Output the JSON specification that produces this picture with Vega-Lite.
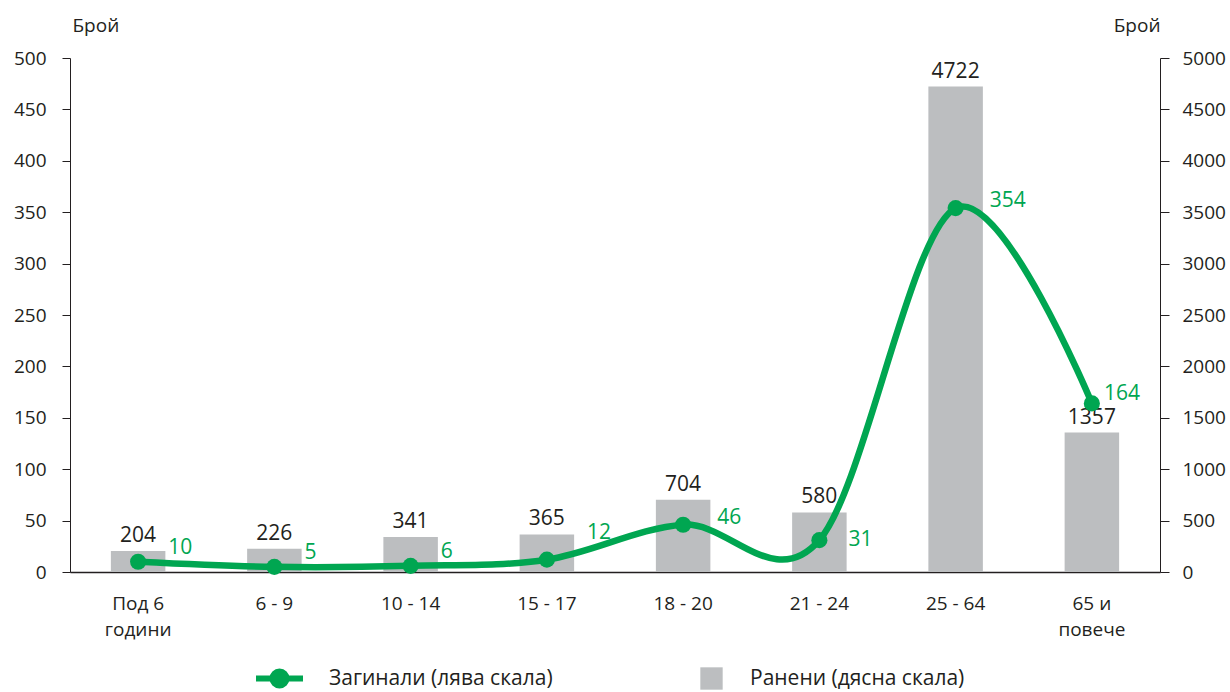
{
  "$schema": "https://vega.github.io/schema/vega-lite/v6.json",
  "width": 1090,
  "height": 514,
  "autosize": {"type": "none"},
  "padding": {"left": 70, "top": 58, "right": 70, "bottom": 120},
  "background": "white",
  "config": {
    "font": "Open Sans",
    "view": {"stroke": null},
    "axis": {
      "grid": false,
      "labelFont": "Open Sans",
      "labelFontSize": 19,
      "labelColor": "#231f20",
      "domainColor": "#231f20",
      "tickColor": "#231f20",
      "titleFont": "Open Sans",
      "titleFontSize": 19,
      "titleFontWeight": "normal",
      "titleColor": "#231f20"
    },
    "legend": {
      "labelFont": "Open Sans",
      "labelFontSize": 21,
      "labelColor": "#231f20",
      "labelLimit": 0,
      "padding": 0
    }
  },
  "data": {
    "values": [
      {"age": "Под 6|години", "killed": 10, "injured": 204},
      {"age": "6 - 9", "killed": 5, "injured": 226},
      {"age": "10 - 14", "killed": 6, "injured": 341},
      {"age": "15 - 17", "killed": 12, "injured": 365},
      {"age": "18 - 20", "killed": 46, "injured": 704},
      {"age": "21 - 24", "killed": 31, "injured": 580},
      {"age": "25 - 64", "killed": 354, "injured": 4722},
      {"age": "65 и|повече", "killed": 164, "injured": 1357}
    ]
  },
  "encoding": {
    "x": {
      "field": "age",
      "type": "nominal",
      "sort": null,
      "scale": {"paddingInner": 0, "paddingOuter": 0},
      "axis": {
        "title": null,
        "labelAngle": 0,
        "ticks": false,
        "labelPadding": 22,
        "labelLineHeight": 26,
        "labelExpr": "split(datum.label, '|')",
        "domainWidth": 1.5
      }
    }
  },
  "layer": [
    {
      "encoding": {
        "y": {
          "field": "injured",
          "type": "quantitative",
          "scale": {"domain": [0, 5000], "nice": false},
          "axis": {
            "orient": "right",
            "format": "d",
            "values": [0, 500, 1000, 1500, 2000, 2500, 3000, 3500, 4000, 4500, 5000],
            "tickSize": 9,
            "labelPadding": 13,
            "title": "Брой",
            "titleAngle": 0,
            "titleAlign": "right",
            "titleBaseline": "middle",
            "titleX": 0,
            "titleY": -33
          }
        }
      },
      "layer": [
        {
          "mark": {"type": "bar", "width": {"band": 0.4}},
          "encoding": {
            "color": {
              "datum": "Ранени (дясна скала)",
              "type": "nominal",
              "scale": {"range": ["#bcbec0"]},
              "legend": {
                "title": null,
                "orient": "none",
                "legendX": 630,
                "legendY": 609,
                "symbolType": "square",
                "symbolSize": 500,
                "symbolStrokeWidth": 0,
                "labelOffset": 27
              }
            }
          }
        },
        {
          "mark": {"type": "text", "baseline": "middle", "dy": -15, "fontSize": 21, "color": "#231f20"},
          "encoding": {"text": {"field": "injured", "type": "quantitative"}}
        }
      ]
    },
    {
      "encoding": {
        "y": {
          "field": "killed",
          "type": "quantitative",
          "scale": {"domain": [0, 500], "nice": false},
          "axis": {
            "orient": "left",
            "values": [0, 50, 100, 150, 200, 250, 300, 350, 400, 450, 500],
            "tickSize": 8,
            "labelPadding": 16,
            "title": "Брой",
            "titleAngle": 0,
            "titleAlign": "left",
            "titleBaseline": "middle",
            "titleX": 2,
            "titleY": -33
          }
        }
      },
      "layer": [
        {
          "mark": {"type": "line", "interpolate": "cardinal", "strokeWidth": 6.5},
          "encoding": {
            "stroke": {
              "datum": "Загинали (лява скала)",
              "type": "nominal",
              "scale": {"range": ["#00a651"]},
              "legend": {
                "title": null,
                "orient": "none",
                "legendX": 183,
                "legendY": 594,
                "symbolType": "M-1,0L1,0M0.3,0A0.3,0.3,0,1,1,-0.3,0A0.3,0.3,0,1,1,0.3,0Z",
                "symbolSize": 2209,
                "symbolStrokeWidth": 6,
                "symbolFillColor": "#00a651",
                "labelOffset": 23
              }
            }
          }
        },
        {
          "mark": {"type": "point", "filled": true, "size": 260, "opacity": 1, "color": "#00a651"}
        },
        {
          "transform": [{"filter": "datum.killed <= 10"}],
          "mark": {"type": "text", "align": "left", "baseline": "middle", "dx": 30, "dy": -14, "fontSize": 21, "color": "#00a651"},
          "encoding": {"text": {"field": "killed", "type": "quantitative"}}
        },
        {
          "transform": [{"filter": "datum.killed == 12"}],
          "mark": {"type": "text", "align": "left", "baseline": "middle", "dx": 40, "dy": -27, "fontSize": 21, "color": "#00a651"},
          "encoding": {"text": {"field": "killed", "type": "quantitative"}}
        },
        {
          "transform": [{"filter": "datum.killed == 46 || datum.killed == 354"}],
          "mark": {"type": "text", "align": "left", "baseline": "middle", "dx": 34, "dy": -7, "fontSize": 21, "color": "#00a651"},
          "encoding": {"text": {"field": "killed", "type": "quantitative"}}
        },
        {
          "transform": [{"filter": "datum.killed == 31"}],
          "mark": {"type": "text", "align": "left", "baseline": "middle", "dx": 29, "dy": 0, "fontSize": 21, "color": "#00a651"},
          "encoding": {"text": {"field": "killed", "type": "quantitative"}}
        },
        {
          "transform": [{"filter": "datum.killed == 164"}],
          "mark": {"type": "text", "align": "left", "baseline": "middle", "dx": 12, "dy": -9, "fontSize": 21, "color": "#00a651"},
          "encoding": {"text": {"field": "killed", "type": "quantitative"}}
        }
      ]
    }
  ],
  "resolve": {"scale": {"y": "independent"}}
}
